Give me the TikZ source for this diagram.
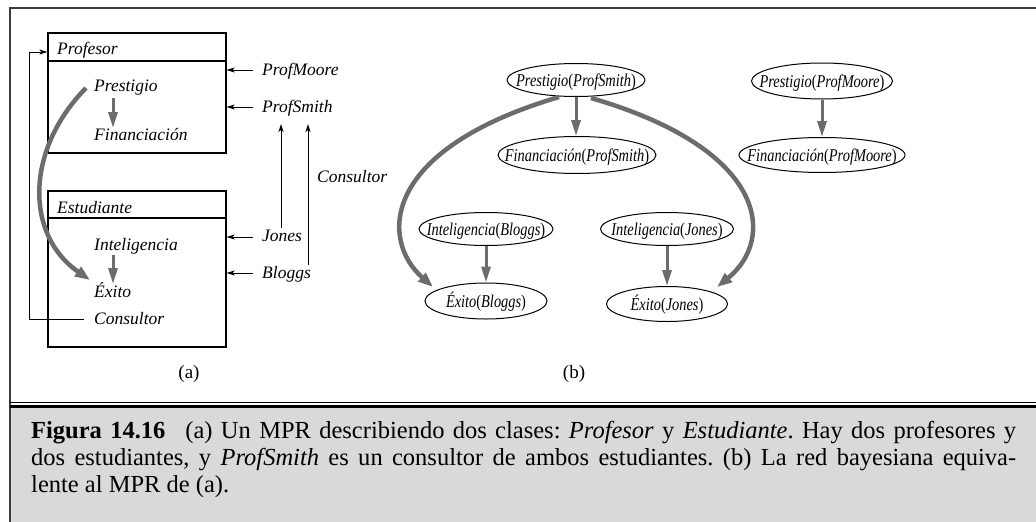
\documentclass[tikz,border=0pt]{standalone}
\usepackage{fontspec}
\setmainfont{Liberation Serif}
\usetikzlibrary{shapes.geometric,arrows.meta,calc}
\definecolor{arrgray}{RGB}{108,108,108}
\definecolor{capgray}{RGB}{217,217,217}
\definecolor{framegray}{RGB}{60,60,60}
\newcommand{\bnlab}[2]{\smash{\raisebox{-6pt}{\makebox[0pt]{\scalebox{0.8}[1]{\fontsize{18}{20}\selectfont\itshape #1\/\upshape(\itshape #2\/\upshape)}}}}}
\begin{document}
\begin{tikzpicture}[x=1pt,y=-1pt,
  lbl/.style={font=\fontsize{17.5}{20}\selectfont\itshape, inner sep=0pt, anchor=base west},
  clsbox/.style={draw, line width=1.2pt, inner sep=0pt},
  thinarrow/.style={line width=1pt, -{Stealth[length=8pt,width=5pt,inset=2pt]}},
  fatarrow/.style={draw=arrgray, line width=3pt, -{Triangle[length=16pt,width=9pt]}},
  curvearrow/.style={draw=arrgray, line width=4.5pt, -{Triangle[length=15pt,width=11pt]}},
  bn/.style={ellipse, draw, line width=1pt, inner sep=0pt, font=\fontsize{18}{20}\selectfont},
  sublabel/.style={font=\fontsize{19}{22}\selectfont, anchor=base, inner sep=0pt},
  capline/.style={font=\fontsize{24.5}{27}\selectfont\frenchspacing, anchor=base west, inner sep=0pt},
]
\useasboundingbox (0,0) rectangle (1036,522);
% frame and caption area
\fill[capgray] (10,408) rectangle (1036,522);
\draw[framegray, line width=2pt] (10,8) -- (1036,8);
\draw[framegray, line width=1.5pt] (10,7) -- (10,522);
\draw[black, line width=1.5pt] (10,402.5) -- (1036,402.5);
\draw[black, line width=2.5pt] (10,406.5) -- (1036,406.5);

% ---------- part (a) ----------
\node[clsbox, minimum width=178pt, minimum height=120pt] (profbox) at (137,93) {};
\draw[line width=1.2pt] (48,61) -- (226,61);
\node[clsbox, minimum width=178pt, minimum height=156pt] (studbox) at (137,269) {};
\draw[line width=1.2pt] (48,218) -- (226,218);

\node[lbl] (tprof) at (57,54) {Profesor};
\node[lbl] (prest) at (94,91) {Prestigio};
\node[lbl] (finan) at (94,140) {Financiación};
\node[lbl] (tstud) at (57,213) {Estudiante};
\node[lbl] (intel) at (94,250) {Inteligencia};
\node[lbl] (exito) at (94,297) {Éxito};
\node[lbl] (cons) at (94,324) {Consultor};
\node[lbl] (pmoore) at (262,75) {ProfMoore};
\node[lbl] (psmith) at (262,112) {ProfSmith};
\node[lbl] (jones) at (262,241) {Jones};
\node[lbl] (bloggs) at (262,278) {Bloggs};
\node[lbl] (conslab) at (317,182) {Consultor};
\node[sublabel] (la) at (189,378) {(a)};

\coordinate (pmA) at (253,70);
\coordinate (psA) at (253,107);
\coordinate (joA) at (253,237);
\coordinate (blA) at (253,273);
\draw[thinarrow] (pmA) -- (pmA -| profbox.east);
\draw[thinarrow] (psA) -- (psA -| profbox.east);
\draw[thinarrow] (joA) -- (joA -| studbox.east);
\draw[thinarrow] (blA) -- (blA -| studbox.east);

\coordinate (joUp) at (281,228);
\coordinate (blUp) at (308,265);
\coordinate (psDn1) at (281,124);
\coordinate (psDn2) at (308,124);
\draw[thinarrow] (joUp) -- (psDn1);
\draw[thinarrow] (blUp) -- (psDn2);

\coordinate (consL) at (84,319);
\coordinate (loopT) at (29,52);
\draw[thinarrow] (consL) -| (loopT) -- (loopT -| profbox.west);

\coordinate (prS) at (113,98);
\coordinate (fiN) at (113,128);
\coordinate (inS) at (113,255);
\coordinate (exN) at (113,284);
\draw[fatarrow] (prS) -- (fiN);
\draw[fatarrow] (inS) -- (exN);

\coordinate (prL) at (86,88);
\coordinate (exL) at (90,280);
\draw[curvearrow] (prL) .. controls (25,150) and (25,235) .. (exL);

% ---------- part (b) ----------
\node[bn, minimum width=138pt, minimum height=33pt] (PS) at (576,80) {\bnlab{Prestigio}{ProfSmith}};
\node[bn, minimum width=158pt, minimum height=37pt] (FS) at (577,155) {\bnlab{Financiación}{ProfSmith}};
\node[bn, minimum width=141pt, minimum height=36pt] (PM) at (822,81) {\bnlab{Prestigio}{ProfMoore}};
\node[bn, minimum width=166pt, minimum height=35pt] (FM) at (822,155) {\bnlab{Financiación}{ProfMoore}};
\node[bn, minimum width=134pt, minimum height=33pt] (IB) at (486,229) {\bnlab{Inteligencia}{Bloggs}};
\node[bn, minimum width=122pt, minimum height=36pt] (EB) at (486,301) {\bnlab{Éxito}{Bloggs}};
\node[bn, minimum width=133pt, minimum height=33pt] (IJ) at (667,229) {\bnlab{Inteligencia}{Jones}};
\node[bn, minimum width=121pt, minimum height=35pt] (EJ) at (667,304) {\bnlab{Éxito}{Jones}};
\node[sublabel] (lb) at (574,378) {(b)};

\draw[fatarrow] (PS.south) -- (PS.south |- FS.north);
\draw[fatarrow] (PM.south) -- (FM.north);
\draw[fatarrow] (IB.south) -- (EB.north);
\draw[fatarrow] (IJ.south) -- (EJ.north);

\coordinate (psL) at ($(PS.center)+(-17,17)$);
\coordinate (psR) at ($(PS.center)+(15,18)$);
\coordinate (ebT) at ($(EB.center)+(-53,-14)$);
\coordinate (ejT) at ($(EJ.center)+(50,-17)$);
\draw[curvearrow] (psL) .. controls (380,150) and (380,240) .. (ebT);
\draw[curvearrow] (psR) .. controls (770,150) and (775,240) .. (ejT);

% ---------- caption ----------
\node[capline] (cap1) at (31,438.5) {\hbox to 985pt{\textbf{Figura 14.16}\hspace{20pt}(a) Un MPR describiendo dos clases: \textit{Profesor} y \textit{Estudiante}. Hay dos profesores y}};
\node[capline] (cap2) at (31,465.3) {\hbox to 985pt{dos estudiantes, y \textit{ProfSmith} es un consultor de ambos estudiantes. (b) La red bayesiana equiva-}};
\node[capline] (cap3) at (31,492) {lente al MPR de (a).};
\end{tikzpicture}
\end{document}
